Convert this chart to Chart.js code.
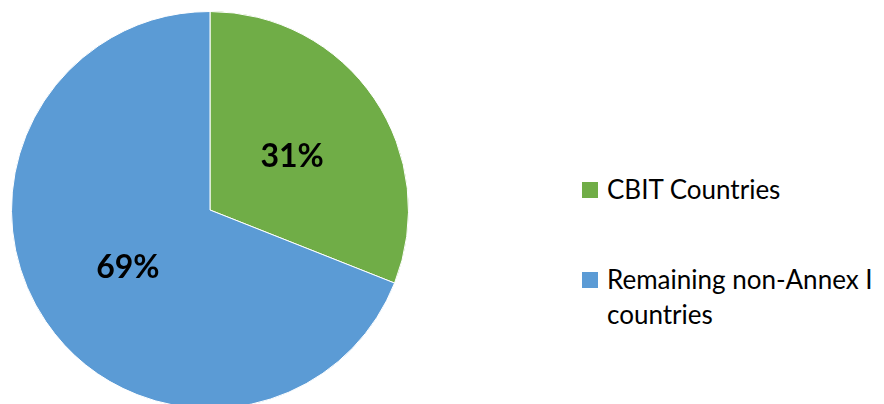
<!DOCTYPE html>
<html>
<head>
<meta charset="utf-8">
<script src="https://cdn.jsdelivr.net/npm/chart.js@4.4.1/dist/chart.umd.min.js"></script>
<style>
  html, body { margin:0; padding:0; width:884px; height:404px; overflow:hidden; background:#fff; }
  #wrap { position:absolute; left:10.5px; top:11px; width:398px; height:398px; }
  .leg { position:absolute; left:582px; font-family:Lato, "Open Sans", sans-serif; font-size:26px; color:#000; }
  .sw { position:absolute; width:16px; height:16px; }
  .txt { position:absolute; left:25px; white-space:nowrap; line-height:35px; }
</style>
</head>
<body>
<div id="wrap"><canvas id="c"></canvas></div>
<div id="legend"></div>
<script>
const categories = ["CBIT Countries", "Remaining non-Annex I countries"];
const legendLines = [["CBIT Countries"], ["Remaining non-Annex I", "countries"]];
const values = [31, 69];
const labels = ["31%", "69%"];
const colors = ["#70AD47", "#5B9BD5"];

// HTML legend
const legendTops = [172, 262];
const leg = document.getElementById('legend');
legendLines.forEach((lines, i) => {
  const d = document.createElement('div');
  d.className = 'leg';
  d.style.top = legendTops[i] + 'px';
  const sw = document.createElement('div');
  sw.className = 'sw';
  sw.style.background = colors[i];
  sw.style.top = '10px';
  d.appendChild(sw);
  const t = document.createElement('div');
  t.className = 'txt';
  t.innerHTML = lines.join('<br>');
  d.appendChild(t);
  leg.appendChild(d);
});

const labelPlugin = {
  id: 'pctLabels',
  afterDatasetsDraw(chart) {
    const ctx = chart.ctx;
    const meta = chart.getDatasetMeta(0);
    ctx.save();
    ctx.font = 'bold 32px Lato, "Open Sans", sans-serif';
    ctx.fillStyle = '#000';
    ctx.textAlign = 'center';
    ctx.textBaseline = 'middle';
    meta.data.forEach((arc, i) => {
      const p = arc.tooltipPosition();
      ctx.fillText(labels[i], p.x, p.y + 2);
    });
    ctx.restore();
  }
};

new Chart(document.getElementById('c'), {
  type: 'pie',
  data: {
    labels: categories,
    datasets: [{
      data: values,
      backgroundColor: colors,
      borderColor: '#ffffff',
      borderWidth: 1
    }]
  },
  options: {
    responsive: true,
    maintainAspectRatio: false,
    animation: false,
    layout: { padding: 0 },
    plugins: { legend: { display: false }, tooltip: { enabled: false } }
  },
  plugins: [labelPlugin]
});
</script>
</body>
</html>
